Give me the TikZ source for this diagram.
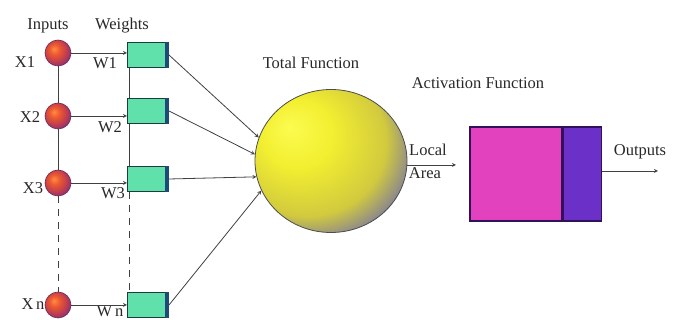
\documentclass[tikz,border=0pt]{standalone}
\usepackage{fontspec}
\setmainfont{Liberation Serif}
\usetikzlibrary{shapes.geometric}
\definecolor{boxgreen}{RGB}{96,224,170}
\definecolor{boxedge}{RGB}{30,60,60}
\definecolor{stripblue}{RGB}{30,74,122}
\definecolor{inedge}{RGB}{110,40,80}
\definecolor{actpink}{RGB}{226,66,190}
\definecolor{actpurple}{RGB}{106,48,200}
\definecolor{actedge}{RGB}{50,16,90}
\definecolor{textgray}{RGB}{40,40,40}
\definecolor{sphA}{RGB}{252,252,80}
\definecolor{sphB}{RGB}{242,238,48}
\definecolor{sphC}{RGB}{210,202,62}
\definecolor{sphD}{RGB}{140,136,140}
\definecolor{sphE}{RGB}{76,76,168}
\definecolor{inA}{RGB}{255,140,70}
\definecolor{inB}{RGB}{236,88,48}
\definecolor{inC}{RGB}{190,60,80}
\definecolor{inD}{RGB}{110,45,140}
\pgfdeclareradialshading{sphereshade}{\pgfpoint{-14bp}{12bp}}{color(0bp)=(sphA); color(12bp)=(sphB); color(26bp)=(sphC); color(33bp)=(sphD); color(39bp)=(sphE); color(60bp)=(sphE)}
\pgfdeclareradialshading{inshade}{\pgfpoint{-8bp}{8bp}}{color(0bp)=(inA); color(10bp)=(inB); color(22bp)=(inC); color(34bp)=(inD); color(60bp)=(inD)}
\begin{document}
\begin{tikzpicture}[x=1pt,y=-1pt,>=stealth,font=\fontsize{16.5}{18}\selectfont,text=textgray,
    inball/.style={circle,minimum size=26pt,inner sep=0pt,shade,shading=inshade,draw=inedge,line width=0.6pt},
    wbox/.style={rectangle,minimum width=41pt,minimum height=25pt,inner sep=0pt,fill=boxgreen,draw=boxedge,line width=1pt},
    wire/.style={draw=black!75,line width=0.8pt},
    gap/.style={dash pattern=on 7pt off 6pt}]
\useasboundingbox (0,0) rectangle (681,320);

% headings
\node (inputs) at (48,26) {Inputs};
\node (weights) at (122,26) {Weights};
\node (total) at (311,63) {Total Function};
\node (activ) at (478,83) {Activation Function};

% inputs and weights
\foreach \n/\y in {1/53, 2/116, 3/183, n/305}
  \node[inball] (x\n) at (58,\y) {};
\foreach \n/\y in {1/55, 2/111, 3/179, n/305}
  {\node[wbox] (w\n) at (148,\y) {};
   \fill[stripblue] ([xshift=-4pt]w\n.north east) rectangle (w\n.south east);}
\foreach \n/\lab/\lx/\ly in {1/X1/25/62, 2/X2/30/117, 3/X3/33/188, n/X\,n/33/304}
  \node (xl\n) at (\lx,\ly) {\lab};
\foreach \n/\lab/\lx/\ly in {1/W1/105/63, 2/W2/110/127, 3/W3/113/193, n/W\,n/110/311}
  \node (wl\n) at (\lx,\ly) {\lab};

\draw[wire] (x1) -- (x2) (x2) -- (x3);
\draw[wire,gap] (x3) -- (xn);
\draw[wire] ([xshift=2pt]w1.south west) -- ([xshift=2pt]w2.north west)
            ([xshift=2pt]w2.south west) -- ([xshift=2pt]w3.north west);
\draw[wire,gap] ([xshift=2pt]w3.south west) -- ([xshift=2pt]wn.north west);
\foreach \n in {1,2,3,n}
  \draw[wire,->] (x\n) -- (x\n -| w\n.west);

% summing sphere
\node[ellipse,minimum width=152pt,minimum height=143pt,inner sep=0pt,shade,shading=sphereshade,
      draw=black!70,line width=0.8pt] (sphere) at (331,161) {};
\foreach \n/\a in {1/162, 2/175, 3/192, n/203}
  \draw[wire,->] (w\n.east) -- (sphere.\a);

\coordinate (la) at (456,165);
\draw[wire,->] (sphere.east |- la) -- (la);
\node (local) at (428,150) {Local};
\node (area) at (425,173) {Area};

% activation
\node[minimum width=92pt,minimum height=94pt,inner sep=0pt,fill=actpink,draw=actedge,line width=1.2pt] (act) at (516,174) {};
\node[anchor=west,minimum width=38pt,minimum height=94pt,inner sep=0pt,fill=actpurple,draw=actedge,line width=1.2pt] (actp) at (act.east) {};
\coordinate (out) at (658,171);
\draw[wire,->] (actp.east |- out) -- (out);
\node (outputs) at (640,152) {Outputs};
\end{tikzpicture}
\end{document}
